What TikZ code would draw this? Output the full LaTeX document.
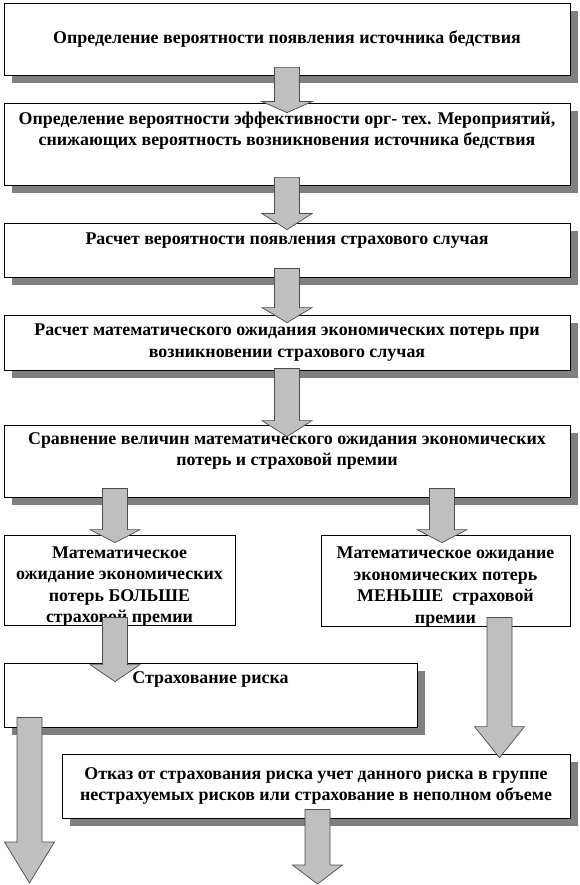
\documentclass[tikz,border=0pt]{standalone}
\usepackage{fontspec}
\setmainfont{Liberation Serif}
\usetikzlibrary{shadows}

\newcommand{\blockarrow}[4]{%
  \path #2 coordinate (#1-s) #3 coordinate (#1-u);
  \coordinate (#1-t) at (#1-s |- #1-u);
  \draw[blockarrow] ([xshift=-12.5pt]#1-s) -- ([shift={(-12.5,-#4)}]#1-t)
    -- ([shift={(-25,-#4)}]#1-t) -- (#1-t) -- ([shift={(25,-#4)}]#1-t)
    -- ([shift={(12.5,-#4)}]#1-t) -- ([xshift=12.5pt]#1-s) -- cycle;}

\begin{document}
\begin{tikzpicture}[
  x=1pt,y=-1pt,
  every node/.style={font=\bfseries\fontsize{17.9}{21.5}\selectfont},
  box/.style={draw,fill=white,line width=0.8pt,align=center,inner sep=0pt},
  shadowed/.style={drop shadow={shadow xshift=7.5pt,shadow yshift=-8pt,fill=black!50,opacity=1}},
  blockarrow/.style={fill=black!25,draw=black!70,line width=0.7pt,line join=miter}
]
  \useasboundingbox (0,0) rectangle (580,885);
  \node[box,shadowed,minimum width=566pt,minimum height=72pt] (b1) at (287,39)
    {Определение вероятности появления источника бедствия};
  \node[box,shadowed,minimum width=566pt,minimum height=82pt,text depth=30pt] (b2) at (287,144)
    {Определение вероятности эффективности орг- тех. Мероприятий,\\снижающих вероятность возникновения источника бедствия};
  \node[box,shadowed,minimum width=566pt,minimum height=54pt,text depth=23pt] (b3) at (287,250)
    {Расчет вероятности появления страхового случая};
  \node[box,shadowed,minimum width=566pt,minimum height=55pt] (b4) at (287,342.5)
    {Расчет математического ожидания экономических потерь при\\возникновении страхового случая};
  \node[box,shadowed,minimum width=566pt,minimum height=72pt,text depth=24pt] (b5) at (287,461)
    {Сравнение величин математического ожидания экономических\\потерь и страховой премии};
  \node[box,minimum width=231pt,minimum height=90pt,text height=85pt,text depth=0pt] (b6) at (119.5,580)
    {Математическое\\ожидание экономических\\потерь БОЛЬШЕ\\страховой премии};
  \node[box,minimum width=249pt,minimum height=91pt,text height=85pt,text depth=0pt] (b7) at (445.5,580.5)
    {Математическое ожидание\\экономических потерь\\МЕНЬШЕ\ \ страховой\\премии};
  \node[box,shadowed,minimum width=413pt,minimum height=64pt,text depth=34pt] (b8) at (210.5,695)
    {Страхование риска};
  \node[box,shadowed,minimum width=508pt,minimum height=64pt] (b9) at (316,786)
    {Отказ от страхования риска учет данного риска в группе\\нестрахуемых рисков или страхование в неполном объеме};
  \coordinate (end1) at (29.5,883);
  \coordinate (end2) at (317.5,884);

  \blockarrow{a1}{([yshift=8pt]b1.south)}{([yshift=-10pt]b2.north)}{11}
  \blockarrow{a2}{([yshift=8pt]b2.south)}{([yshift=-7pt]b3.north)}{16}
  \blockarrow{a3}{([yshift=9pt]b3.south)}{([yshift=-8pt]b4.north)}{15}
  \blockarrow{a4}{([yshift=2pt]b4.south)}{([yshift=-12pt]b5.north)}{16}
  \blockarrow{a5}{([xshift=-4.5pt,yshift=9pt]b6.north |- b5.south)}{([yshift=-8pt]b6.north)}{13}
  \blockarrow{a6}{([xshift=-3.5pt,yshift=9pt]b7.north |- b5.south)}{([yshift=-8pt]b7.north)}{13}
  \blockarrow{a7}{([xshift=-4.5pt,yshift=8pt]b6.south)}{([yshift=-19pt]b8.north)}{17}
  \blockarrow{a8}{([xshift=54pt,yshift=9pt]b7.south)}{([yshift=-4pt]b9.north)}{31}
  \blockarrow{a9}{([yshift=10pt]end1 |- b8.south)}{(end1)}{41}
  \blockarrow{a10}{([yshift=9pt]end2 |- b9.south)}{(end2)}{19}
\end{tikzpicture}
\end{document}
